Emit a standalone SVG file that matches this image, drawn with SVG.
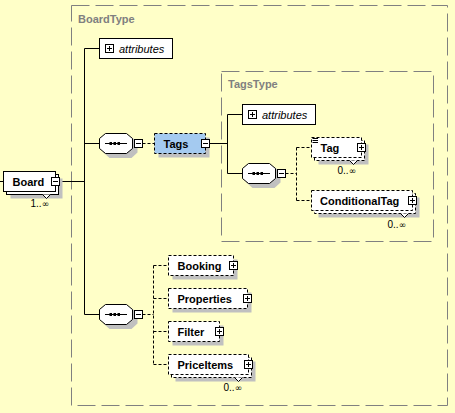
<svg xmlns="http://www.w3.org/2000/svg" xmlns:xlink="http://www.w3.org/1999/xlink" width="455" height="413" viewBox="0 0 455 413">
<style>
text{font-family:"Liberation Sans",Arial,sans-serif;fill:#000;}
.lbl{font-size:11px;font-weight:bold;}
.att{font-size:11px;font-style:italic;}
.occ{font-size:10px;}
.inf{font-family:"DejaVu Sans",sans-serif;font-size:9px;}
.type{font-size:11px;font-weight:bold;fill:#808080;}
.tbox{fill:none;stroke:#808080;stroke-width:1;stroke-dasharray:18 6;}
.box{fill:#fff;stroke:#000;stroke-width:1;}
.dbox{fill:#fff;stroke:#000;stroke-width:1;stroke-dasharray:3 2;}
.sel{fill:#a4caf0;stroke:#000;stroke-width:1;stroke-dasharray:3 2;}
.sh{fill:#c0c0c0;}
.ln{stroke:#000;stroke-width:1;fill:none;}
.dln{stroke:#000;stroke-width:1;fill:none;stroke-dasharray:3 2;}
.pm{fill:#fff;stroke:#000;stroke-width:1;}
</style>
<defs>
<g id="minus"><rect class="pm" x="-4" y="-4" width="8" height="8"/><path class="ln" d="M-2.5,0H2.5"/></g>
<g id="plus"><rect class="pm" x="-4" y="-4" width="8" height="8"/><path class="ln" d="M-2.5,0H2.5M0,-2.5V2.5"/></g>
<g id="seq">
<path class="sh" d="M4,5L10,-0.5H32L38,5V15L32,20.5H10L4,15Z" transform="translate(0,4)"/>
<path class="box" d="M0,5L6,0H27L33,5V15L27,20H6L0,15Z"/>
<path class="ln" d="M5.5,10H27.5"/>
<rect x="10" y="8.5" width="2.5" height="3" fill="#000"/>
<rect x="14" y="8.5" width="2.5" height="3" fill="#000"/>
<rect x="18" y="8.5" width="2.5" height="3" fill="#000"/>
</g>
<path id="notch" class="box" d="M-4,0L0,4L4,0"/>
</defs>
<rect width="455" height="413" fill="#ffffc8"/>
<g id="BoardType">
<rect class="tbox" x="71.5" y="5.5" width="376" height="400"/>
<text class="type" x="78" y="23">BoardType</text>
</g>
<g id="TagsType">
<rect class="tbox" x="221.5" y="71.5" width="212" height="170"/>
<text class="type" x="228" y="88">TagsType</text>
</g>
<g id="connectors">
<path class="ln" d="M0,181.5H3.5"/>
<path class="ln" d="M60,181.5H84.5M84.5,48.5V314.5M84.5,48.5H99.5M84.5,143.5H99.5M84.5,314.5H99.5"/>
<path class="dln" d="M142.5,143.5H154.5"/>
<path class="ln" d="M209.5,143.5H227.5M227.5,114.5V173.5M227.5,114.5H242.5M227.5,173.5H242.5"/>
<path class="dln" d="M285.5,173.5H296.5M296.5,147.5V200.5M296.5,147.5H311.5M296.5,200.5H311.5"/>
<path class="dln" d="M142.5,314.5H153.5M153.5,265.5V364.5M153.5,265.5H168.5M153.5,298.5H168.5M153.5,331.5H168.5M153.5,364.5H168.5"/>
</g>
<g id="Board">
<rect class="sh" x="10.5" y="178.5" width="52" height="20"/>
<rect class="box" x="6.5" y="174.5" width="52" height="20"/>
<rect class="box" x="3.5" y="171.5" width="52" height="20"/>
<use xlink:href="#notch" x="46.5" y="194.5"/>
<text class="lbl" x="12.5" y="185.5">Board</text>
<use xlink:href="#minus" x="55.5" y="181.5"/>
<text class="occ" x="30.5" y="207">1..<tspan class="inf">∞</tspan></text>
</g>
<g id="attributes1">
<rect class="box" x="99.5" y="38.5" width="73" height="20"/>
<use xlink:href="#plus" x="109.5" y="48.5"/>
<text class="att" x="119" y="52.5">attributes</text>
</g>
<g id="seq1">
<use xlink:href="#seq" x="99.5" y="133.5"/>
<use xlink:href="#minus" x="138.5" y="143.5"/>
</g>
<g id="Tags">
<rect class="sh" x="158.5" y="137.5" width="51" height="20"/>
<rect class="sel" x="154.5" y="133.5" width="51" height="20"/>
<text class="lbl" x="163.5" y="147.5">Tags</text>
<use xlink:href="#minus" x="205.5" y="143.5"/>
</g>
<g id="attributes2">
<rect class="box" x="242.5" y="104.5" width="73" height="20"/>
<use xlink:href="#plus" x="252.5" y="114.5"/>
<text class="att" x="262" y="118.5">attributes</text>
</g>
<g id="seq2">
<use xlink:href="#seq" x="242.5" y="163.5"/>
<use xlink:href="#minus" x="281.5" y="173.5"/>
</g>
<g id="Tag">
<rect class="sh" x="318.5" y="144.5" width="50" height="20"/>
<rect class="dbox" x="314.5" y="140.5" width="50" height="20"/>
<rect class="dbox" x="311.5" y="137.5" width="50" height="20"/>
<path class="ln" d="M312.5,138.5H318M312.5,140.5H318M312.5,142.5H318"/>
<use xlink:href="#notch" x="353.5" y="160.5"/>
<text class="lbl" x="320.5" y="151.5">Tag</text>
<use xlink:href="#plus" x="361.5" y="147.5"/>
<text class="occ" x="337.5" y="173.5">0..<tspan class="inf">∞</tspan></text>
</g>
<g id="ConditionalTag">
<rect class="sh" x="318.5" y="197.5" width="101" height="20"/>
<rect class="dbox" x="314.5" y="193.5" width="101" height="20"/>
<rect class="dbox" x="311.5" y="190.5" width="101" height="20"/>
<use xlink:href="#notch" x="404.5" y="213.5"/>
<text class="lbl" x="320" y="204.5">ConditionalTag</text>
<use xlink:href="#plus" x="412.5" y="200.5"/>
<text class="occ" x="387.5" y="227.5">0..<tspan class="inf">∞</tspan></text>
</g>
<g id="seq3">
<use xlink:href="#seq" x="99.5" y="304.5"/>
<use xlink:href="#minus" x="138.5" y="314.5"/>
</g>
<g id="Booking">
<rect class="sh" x="172.5" y="259.5" width="65" height="20"/>
<rect class="dbox" x="168.5" y="255.5" width="65" height="20"/>
<text class="lbl" x="177.5" y="269.5">Booking</text>
<use xlink:href="#plus" x="233.5" y="265.5"/>
</g>
<g id="Properties">
<rect class="sh" x="172.5" y="292.5" width="79" height="20"/>
<rect class="dbox" x="168.5" y="288.5" width="79" height="20"/>
<text class="lbl" x="177.5" y="302.5">Properties</text>
<use xlink:href="#plus" x="247.5" y="298.5"/>
</g>
<g id="Filter">
<rect class="sh" x="172.5" y="325.5" width="51" height="20"/>
<rect class="dbox" x="168.5" y="321.5" width="51" height="20"/>
<text class="lbl" x="177.5" y="335.5">Filter</text>
<use xlink:href="#plus" x="219.5" y="331.5"/>
</g>
<g id="PriceItems">
<rect class="sh" x="175.5" y="361.5" width="80" height="20"/>
<rect class="dbox" x="171.5" y="357.5" width="80" height="20"/>
<rect class="dbox" x="168.5" y="354.5" width="80" height="20"/>
<use xlink:href="#notch" x="238.5" y="377.5"/>
<text class="lbl" x="177.5" y="368.5">PriceItems</text>
<use xlink:href="#plus" x="248.5" y="364.5"/>
<text class="occ" x="223.5" y="391">0..<tspan class="inf">∞</tspan></text>
</g>
</svg>
